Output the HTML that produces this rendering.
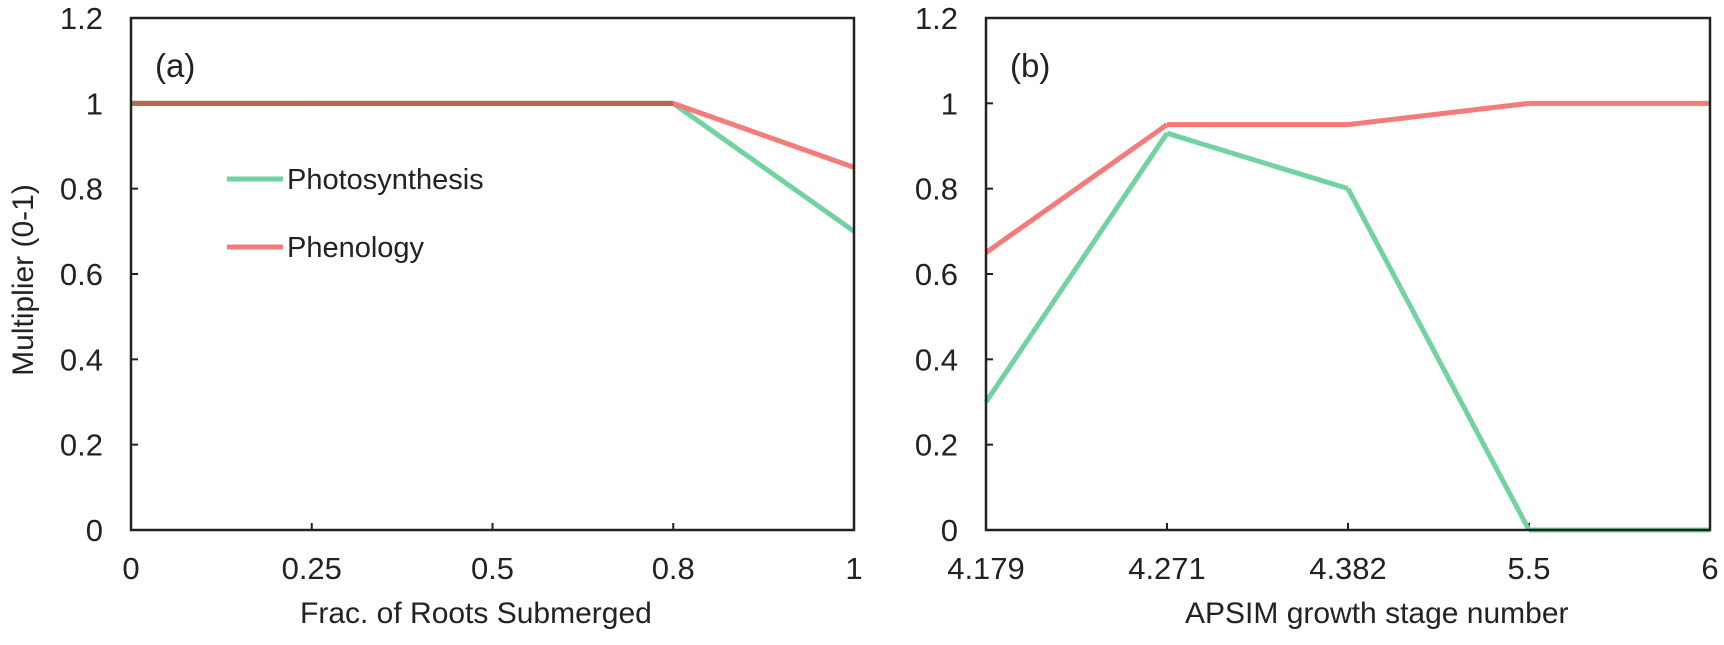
<!DOCTYPE html>
<html><head><meta charset="utf-8"><style>
html,body{margin:0;padding:0;background:#fff;}
svg text{font-family:"Liberation Sans",Arial,sans-serif;fill:#222;}
</style></head><body>
<svg id="chart" width="1724" height="640" viewBox="0 0 1724 640" xmlns="http://www.w3.org/2000/svg"></svg>
<script>
const catsA = ["0","0.25","0.5","0.8","1"];
const photoA = [1,1,1,1,0.7];
const phenoA = [1,1,1,1,0.85];
const catsB = ["4.179","4.271","4.382","5.5","6"];
const photoB = [0.3,0.93,0.8,0,0];
const phenoB = [0.65,0.95,0.95,1,1];
const yTicks = [0,0.2,0.4,0.6,0.8,1,1.2];
const yTickLabels = ["0","0.2","0.4","0.6","0.8","1","1.2"];

const NS="http://www.w3.org/2000/svg";
const svg=document.getElementById('chart');
function mk(tag,attrs,parent){const e=document.createElementNS(NS,tag);for(const k in attrs)e.setAttribute(k,attrs[k]);(parent||svg).appendChild(e);return e;}
const plotTop=18,plotBottom=530;
function yS(v){return plotBottom-(v/1.2)*(plotBottom-plotTop);}

function panel(key,left,right,cats,photo,pheno,tag,title,titleX,legend){
  const g=mk('g',{});
  
  
  const xS=i=>left+i*(right-left)/(cats.length-1);
  yTicks.forEach((v,i)=>{
    const t=mk('line',{x1:left,x2:left+7,y1:yS(v),y2:yS(v),stroke:'#222','stroke-width':2},g);
    
    
    const l=mk('text',{x:left-28,y:yS(v)+11,'text-anchor':'end','font-size':31},g);
    l.textContent=yTickLabels[i];
    
    
  });
  cats.forEach((c,i)=>{
    const t=mk('line',{x1:xS(i),x2:xS(i),y1:plotBottom,y2:plotBottom-7,stroke:'#222','stroke-width':2},g);
    
    
    const l=mk('text',{x:xS(i),y:579,'text-anchor':'middle','font-size':31},g);
    l.textContent=c;
    
    
  });
  function drawSeries(vals,color,name){
    for(let i=0;i<vals.length-1;i++){
      const s=mk('line',{x1:xS(i),y1:yS(vals[i]),x2:xS(i+1),y2:yS(vals[i+1]),stroke:color,'stroke-width':5},g);
      
      
    }
  }
  drawSeries(photo,'#72d2a0','photosynthesis-line');
  drawSeries(pheno,'#f57a7a','phenology-line');
  for(let i=0;i<photo.length-1;i++){
    if(photo[i]===pheno[i]&&photo[i+1]===pheno[i+1]){
      const s=mk('line',{x1:xS(i),y1:yS(photo[i]),x2:xS(i+1),y2:yS(photo[i+1]),stroke:'#b8684f','stroke-width':5},g);
      
      
    }
  }
  const fr=mk('rect',{x:left,y:plotTop,width:right-left,height:plotBottom-plotTop,fill:'none',stroke:'#222','stroke-width':2.5},g);
  
  
  const tg=mk('text',{x:left+24,y:77,'font-size':33},g);
  tg.textContent=tag;
  
  
  const xt=mk('text',{x:titleX,y:623,'font-size':30},g);
  xt.textContent=title;
  
  
  if(legend){
    [['Photosynthesis','#72d2a0',179],['Phenology','#f57a7a',247]].forEach(([n,c,y])=>{
      const lg=mk('g',{},g);
      
      
      mk('line',{x1:227,x2:283,y1:y,y2:y,stroke:c,'stroke-width':5},lg);
      const t=mk('text',{x:287,y:y+10,'font-size':29},lg);
      t.textContent=n;
    });
  }
}
panel('a',131,854,catsA,photoA,phenoA,'(a)','Frac. of Roots Submerged',300,true);
panel('b',986,1710,catsB,photoB,phenoB,'(b)','APSIM growth stage number',1185,false);
const yt=mk('text',{x:0,y:0,'font-size':30,'text-anchor':'middle',transform:'translate(33,280) rotate(-90)'});
yt.textContent='Multiplier (0-1)';


</script>
</body></html>
